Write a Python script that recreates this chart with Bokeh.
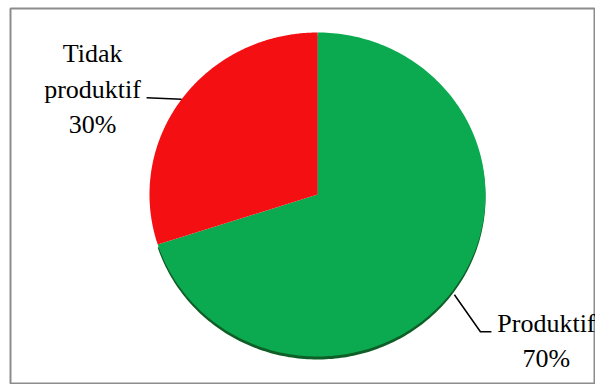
import numpy as np
from bokeh.plotting import figure
from bokeh.models import Range1d, ColumnDataSource
from bokeh.core.properties import value
from bokeh.embed import file_html
from bokeh.resources import INLINE

categories = ["Produktif", "Tidak produktif"]
values = [70, 30]
label_texts = ["Produktif\n70%", "Tidak\nproduktif\n30%"]
colors = ["#0BAA50", "#F40F12"]
shadow_color = "#0F5E27"

# pie geometry (screen-like units)
cx, cy, rx, ry = 317, 194, 168, 162

p = figure(width=595, height=384, output_backend="svg", toolbar_location=None,
           x_range=Range1d(10, 595), y_range=Range1d(384, 8),
           min_border_left=10, min_border_right=0, min_border_top=8, min_border_bottom=0)
p.axis.visible = False
p.grid.visible = False
p.outline_line_color = "#8c8c8c"
p.outline_line_width = 2
p.background_fill_color = "white"
p.border_fill_color = "white"

total = sum(values)
start = np.pi / 2
xs, ys, mids = [], [], []
for v in values:
    sweep = 2 * np.pi * v / total
    th = np.linspace(start, start - sweep, 240)
    xs.append([cx] + list(cx + rx * np.cos(th)))
    ys.append([cy] + list(cy - ry * np.sin(th)))
    mids.append(start - sweep / 2)
    start -= sweep

# thin 3D-like rim under the green slice
p.patch(xs[0], [y + 3 for y in ys[0]], fill_color=shadow_color, line_color=None)
p.patches(xs, ys, fill_color=colors, line_color=None)

# leader lines
ax = [cx + rx * np.cos(m) for m in mids]
ay = [cy - ry * np.sin(m) for m in mids]
p.line([ax[0] + 1, ax[0] + 27, ax[0] + 38], [ay[0] + 5, ay[0] + 42, ay[0] + 42],
       line_color="black", line_width=1.5)
p.line([ax[1], ax[1] - 35], [ay[1], ay[1] - 1.5], line_color="black", line_width=1.5)

# labels
src = ColumnDataSource(dict(
    x=[ax[0] + 93, ax[1] - 89],
    y=[ay[0] + 51, ay[1] - 10],
    t=label_texts,
))
p.text(x="x", y="y", text="t", source=src, text_font=value("Liberation Serif"),
       text_font_size="26px", text_align="center", text_baseline="middle",
       text_color="black", text_line_height=1.22)

open("out.html", "w").write(file_html(p, INLINE))
